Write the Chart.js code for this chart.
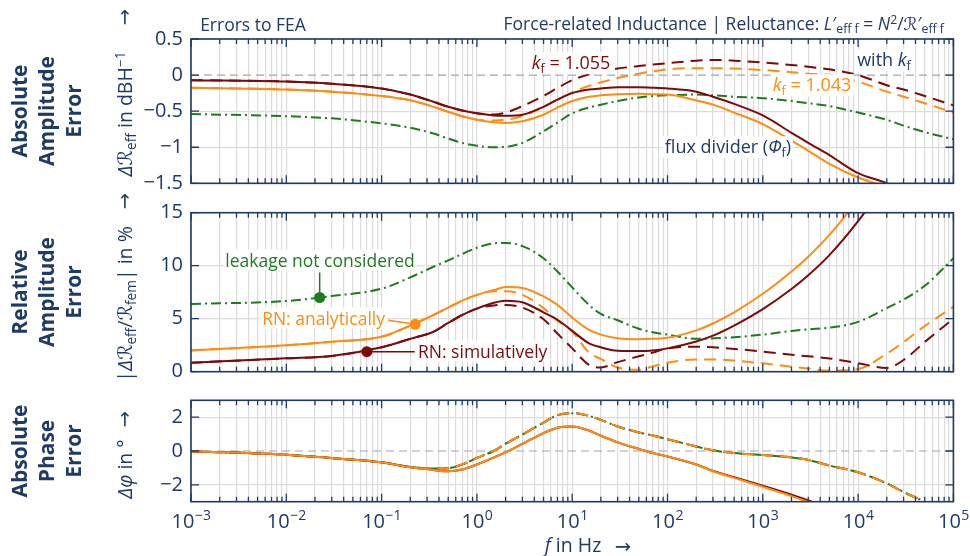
<!DOCTYPE html>
<html>
<head>
<meta charset="utf-8">
<script src="https://cdn.jsdelivr.net/npm/chart.js@4.4.1/dist/chart.umd.min.js"></script>
<style>
  body { margin: 0; width: 970px; height: 556px; position: relative; overflow: hidden; background: #fff;
         font-family: 'Open Sans', 'DejaVu Sans', sans-serif; color: #1e3a66; }
  canvas { position: absolute; left: 0; top: 0; }
  .t { position: absolute; white-space: nowrap; transform: translate(-50%, -50%); font-size: 17.5px; line-height: 1.2; }
  .rot { transform: translate(-50%, -50%) rotate(-90deg); }
  .side { font-weight: 700; font-size: 21px; line-height: 27px; text-align: center; }
  .ax { font-size: 19.5px; }
  .bg { background: #fff; padding: 0 2px; }
  sub { font-size: 0.7em; vertical-align: -0.28em; line-height: 0; }
  sup { font-size: 0.7em; vertical-align: 0.5em; line-height: 0; }
  .cal { font-family: 'DejaVu Sans', 'DejaVu Serif', serif; font-style: italic; }
</style>
</head>
<body>
<canvas id="amp" width="970" height="556"></canvas>
<canvas id="rel" width="970" height="556"></canvas>
<canvas id="phase" width="970" height="556"></canvas>

<div class="t" style="left:253px;top:24px">Errors to FEA</div>
<div class="t" style="left:944px;top:24px;transform:translate(-100%,-50%)">Force-related Inductance | Reluctance: <i>L</i>′<sub>eff f</sub> = <i>N</i><sup>2</sup>/<span class="cal">ℛ</span>′<sub>eff f</sub></div>

<div class="t rot side" style="left:46px;top:111px">Absolute<br>Amplitude<br>Error</div>
<div class="t rot side" style="left:46px;top:292px">Relative<br>Amplitude<br>Error</div>
<div class="t rot side" style="left:46px;top:451px">Absolute<br>Phase<br>Error</div>

<div class="t rot ax" style="left:125px;top:114px"><i>Δ</i><span class="cal">ℛ</span><sub>eff</sub> in dBH<sup>−1</sup></div>
<div class="t rot ax" style="left:124px;top:17px">→</div>
<div class="t rot ax" style="left:125px;top:304px">|<i>Δ</i><span class="cal">ℛ</span><sub>eff</sub>/<span class="cal">ℛ</span><sub>fem</sub>| in %</div>
<div class="t rot ax" style="left:124px;top:201px">→</div>
<div class="t rot ax" style="left:125px;top:469px"><i>Δφ</i> in °</div>
<div class="t rot ax" style="left:124px;top:419px">→</div>
<div class="t ax" style="left:573px;top:545px"><i>f</i> in Hz</div>
<div class="t ax" style="left:623px;top:546px">→</div>

<div class="t bg" style="left:571px;top:63px;color:#7d0a0a;font-size:18px"><i>k</i><sub>f</sub> = 1.055</div>
<div class="t bg" style="left:884px;top:60px;font-size:18px">with <i>k</i><sub>f</sub></div>
<div class="t bg" style="left:812px;top:85px;color:#ff8c10;font-size:18px"><i>k</i><sub>f</sub> = 1.043</div>
<div class="t bg" style="left:728px;top:147px;font-size:18px">flux divider (<i>Φ</i><sub>f</sub>)</div>

<div class="t bg" style="left:320px;top:260px;color:#1e7b1e">leakage not considered</div>
<div class="t bg" style="left:387px;top:318px;color:#ff8c10;transform:translate(-100%,-50%)">RN: analytically</div>
<div class="t bg" style="left:416px;top:351px;color:#7d0a0a;transform:translate(0,-50%)">RN: simulatively</div>

<script>
const freq = [1e-3, 1e-2, 0.03, 0.1, 0.2, 0.35, 0.5, 0.7, 1, 1.5, 2, 3, 5, 7, 10, 15, 20, 30, 50, 70, 100, 200, 300, 500, 1e3, 2e3, 3e3, 5e3, 1e4, 2e4, 3e4, 5e4, 1e5]

// absolute amplitude error in dBH^-1
const ampSim   = [-0.07, -0.09, -0.12, -0.185, -0.27, -0.37, -0.44, -0.49, -0.53, -0.56, -0.565, -0.55, -0.44, -0.34, -0.25, -0.2, -0.185, -0.17, -0.17, -0.175, -0.185, -0.23, -0.3, -0.4, -0.56, -0.8, -0.94, -1.11, -1.36, -1.5, -1.62, -1.82, -2.1]
const ampAna   = [-0.175, -0.2, -0.23, -0.29, -0.35, -0.44, -0.51, -0.57, -0.62, -0.655, -0.665, -0.64, -0.55, -0.45, -0.36, -0.3, -0.28, -0.265, -0.26, -0.265, -0.27, -0.35, -0.41, -0.52, -0.68, -0.91, -1.05, -1.23, -1.42, -1.56, -1.7, -1.92, -2.25]
const ampLeak  = [-0.54, -0.57, -0.6, -0.67, -0.73, -0.81, -0.88, -0.94, -0.98, -1.0, -0.995, -0.94, -0.78, -0.66, -0.53, -0.45, -0.41, -0.36, -0.31, -0.29, -0.28, -0.27, -0.28, -0.3, -0.32, -0.36, -0.39, -0.43, -0.52, -0.62, -0.7, -0.79, -0.89]
const ampSimKf = [-0.07, -0.09, -0.12, -0.185, -0.27, -0.37, -0.44, -0.49, -0.53, -0.545, -0.52, -0.43, -0.29, -0.18, -0.07, 0.01, 0.05, 0.09, 0.125, 0.145, 0.165, 0.2, 0.21, 0.2, 0.175, 0.14, 0.115, 0.08, 0.0, -0.14, -0.2, -0.29, -0.42]
const ampAnaKf = [-0.175, -0.2, -0.23, -0.29, -0.35, -0.44, -0.51, -0.57, -0.62, -0.63, -0.62, -0.57, -0.44, -0.34, -0.24, -0.15, -0.1, -0.04, 0.02, 0.05, 0.08, 0.095, 0.095, 0.09, 0.07, 0.04, 0.02, 0.0, -0.09, -0.23, -0.3, -0.39, -0.52]

// relative amplitude error in %
const relSim   = [0.85, 1.26, 1.48, 2.3, 3.1, 3.77, 4.6, 5.35, 5.95, 6.5, 6.7, 6.55, 5.6, 4.9, 3.85, 2.68, 2.3, 1.98, 1.95, 2.0, 2.2, 2.85, 3.4, 4.35, 5.9, 7.8, 9.1, 11.0, 14.2, 18, 20.5, 24, 30]
const relAna   = [2.0, 2.49, 2.83, 3.3, 4.35, 5.35, 6.05, 6.7, 7.25, 7.7, 7.98, 7.9, 7.1, 6.3, 5.1, 3.95, 3.5, 3.15, 3.06, 3.1, 3.2, 3.9, 4.55, 5.6, 7.35, 9.45, 10.85, 12.9, 16.3, 20.5, 23.5, 28, 35]
const relLeak  = [6.39, 6.67, 7.14, 7.83, 8.9, 9.9, 10.5, 11.1, 11.7, 12.1, 12.15, 11.85, 10.7, 9.45, 7.95, 6.3, 5.45, 4.85, 4.05, 3.72, 3.5, 3.1, 3.15, 3.25, 3.5, 3.85, 4.0, 4.15, 4.7, 6.0, 6.8, 8.1, 10.7]
const relSimKf = [0.85, 1.26, 1.48, 2.3, 3.1, 3.77, 4.6, 5.35, 5.95, 6.25, 6.3, 6.05, 4.95, 3.6, 2.2, 0.65, 0.4, 0.9, 1.45, 1.8, 2.2, 2.35, 2.3, 2.15, 1.9, 1.6, 1.45, 1.25, 0.8, 0.35, 1.1, 2.8, 5.0]
const relAnaKf = [2.0, 2.49, 2.83, 3.3, 4.35, 5.35, 6.05, 6.7, 7.25, 7.6, 7.6, 7.25, 6.0, 4.8, 3.8, 1.8, 1.2, 0.4, 0.18, 0.5, 0.85, 1.15, 1.15, 1.05, 0.79, 0.47, 0.3, 0.1, 0.25, 1.7, 2.8, 4.3, 6.13]

// absolute phase error in degree
const phaseSim = [-0.02, -0.22, -0.42, -0.67, -0.96, -1.12, -1.2, -1.1, -0.8, -0.39, -0.08, 0.42, 1.06, 1.38, 1.45, 1.21, 0.9, 0.51, 0.12, -0.12, -0.32, -0.8, -1.18, -1.55, -2.05, -2.58, -2.92, -3.4, -4.0, -4.6, -5.0, -5.5, -6.2]
const phaseAna = [-0.02, -0.22, -0.42, -0.67, -0.96, -1.12, -1.2, -1.1, -0.8, -0.39, -0.08, 0.42, 1.06, 1.38, 1.45, 1.21, 0.9, 0.51, 0.12, -0.12, -0.32, -0.8, -1.2, -1.59, -2.12, -2.67, -3.02, -3.5, -4.1, -4.8, -5.2, -5.6, -6.3]
const phaseLeak = [-0.02, -0.22, -0.42, -0.67, -0.94, -1.04, -1.02, -0.8, -0.41, 0.0, 0.43, 0.97, 1.68, 2.12, 2.24, 2.08, 1.84, 1.45, 1.1, 0.92, 0.7, 0.27, 0.04, -0.12, -0.24, -0.38, -0.53, -0.86, -1.26, -1.92, -2.43, -3.02, -4.2]
const phaseKf  = [-0.02, -0.22, -0.42, -0.67, -0.94, -1.04, -1.02, -0.8, -0.41, 0.0, 0.43, 0.97, 1.68, 2.12, 2.24, 2.08, 1.84, 1.45, 1.1, 0.92, 0.7, 0.27, 0.04, -0.12, -0.24, -0.38, -0.53, -0.86, -1.26, -1.92, -2.43, -3.02, -4.2]

const xDecades   = [-3, -2, -1, 0, 1, 2, 3, 4, 5]
const ampTicks   = [-1.5, -1, -0.5, 0, 0.5]
const relTicks   = [0, 5, 10, 15]
const phaseTicks = [-2, 0, 2]

// annotated points on the relative error curves
const markerFreq = [0.0224, 0.225, 0.07]
const markerRel  = [7.0, 4.47, 1.89]

const navy = '#1e3a66'
const red = '#7d0a0a'
const orange = '#ff8c10'
const green = '#1e7b1e'
const gridGray = '#dcdcdc'

const xGrid = []
for (let d = -3; d < 5; d++) {
  for (let m = 1; m < 10; m++) xGrid.push(Number((m * Math.pow(10, d)).toPrecision(3)))
}
xGrid.push(1e5)

const pts = (ys) => freq.map((f, i) => ({ x: f, y: ys[i] }))
const solid = (ys, color, order) => ({ data: pts(ys), borderColor: color, order: order })
const dashed = (ys, color, order) => ({ data: pts(ys), borderColor: color, borderDash: [12, 7], order: order })
const dashDot = (ys, color, order) => ({ data: pts(ys), borderColor: color, borderDash: [10, 4, 2, 4], order: order })

const frame = {
  id: 'frame',
  beforeDatasetsDraw(chart) {
    const { ctx, chartArea: a, scales: { y } } = chart
    if (y.min < 0 && y.max > 0) {
      const py = y.getPixelForValue(0)
      ctx.save()
      ctx.setLineDash([8, 5])
      ctx.strokeStyle = '#9aa6b8'
      ctx.lineWidth = 1.2
      ctx.beginPath()
      ctx.moveTo(a.left, py)
      ctx.lineTo(a.right, py)
      ctx.stroke()
      ctx.restore()
    }
  },
  afterDatasetsDraw(chart) {
    const { ctx, chartArea: a, scales: { x, y } } = chart
    ctx.save()
    ctx.strokeStyle = navy
    ctx.lineWidth = 1.3
    ctx.beginPath()
    xGrid.forEach(v => {
      const px = x.getPixelForValue(v)
      const len = Number.isInteger(Math.log10(v)) ? 8 : 5
      ctx.moveTo(px, a.top); ctx.lineTo(px, a.top + len)
      ctx.moveTo(px, a.bottom); ctx.lineTo(px, a.bottom - len)
    })
    y.ticks.forEach(t => {
      const py = y.getPixelForValue(t.value)
      ctx.moveTo(a.left, py); ctx.lineTo(a.left + 8, py)
      ctx.moveTo(a.right, py); ctx.lineTo(a.right - 8, py)
    })
    ctx.stroke()
    ctx.lineWidth = 1.6
    ctx.strokeRect(a.left, a.top, a.right - a.left, a.bottom - a.top)
    ctx.restore()
  }
}

const leaders = {
  id: 'leaders',
  afterDatasetsDraw(chart) {
    const { ctx, scales: { x, y } } = chart
    const p = markerFreq.map((f, i) => [x.getPixelForValue(f), y.getPixelForValue(markerRel[i])])
    ctx.save()
    ctx.lineWidth = 1.5
    ctx.strokeStyle = green
    ctx.beginPath(); ctx.moveTo(p[0][0], p[0][1]); ctx.lineTo(p[0][0], p[0][1] - 25); ctx.stroke()
    ctx.strokeStyle = orange
    ctx.beginPath(); ctx.moveTo(p[1][0], p[1][1]); ctx.lineTo(p[1][0] - 27, p[1][1] - 4); ctx.stroke()
    ctx.strokeStyle = red
    ctx.beginPath(); ctx.moveTo(p[2][0], p[2][1]); ctx.lineTo(p[2][0] + 48, p[2][1]); ctx.stroke()
    ctx.restore()
  }
}

const decadeLabels = {
  id: 'decadeLabels',
  afterDraw(chart) {
    const { ctx, chartArea: a, scales: { x } } = chart
    ctx.save()
    ctx.fillStyle = navy
    ctx.textBaseline = 'alphabetic'
    xDecades.forEach(d => {
      const px = x.getPixelForValue(Math.pow(10, d))
      const exp = d < 0 ? '\u2212' + Math.abs(d) : String(d)
      ctx.font = '20px "Open Sans"'
      const wBase = ctx.measureText('10').width
      ctx.font = '14px "Open Sans"'
      const wExp = ctx.measureText(exp).width
      const left = px - (wBase + wExp) / 2
      ctx.font = '20px "Open Sans"'
      ctx.fillText('10', left, a.bottom + 26.5)
      ctx.font = '14px "Open Sans"'
      ctx.fillText(exp, left + wBase + 0.5, a.bottom + 18)
    })
    ctx.restore()
  }
}

// every panel gets a full size transparent canvas, the plot box is placed by padding
function panel(id, datasets, yMin, yMax, yTicks, top, bottom, extra) {
  return new Chart(document.getElementById(id), {
    type: 'line',
    data: { datasets: datasets },
    options: {
      responsive: false,
      animation: false,
      devicePixelRatio: 1,
      layout: { autoPadding: false, padding: { top: top, right: 16.6, left: 0, bottom: 0 } },
      plugins: { legend: { display: false }, tooltip: { enabled: false } },
      elements: {
        point: { radius: 0 },
        line: { borderWidth: 2, cubicInterpolationMode: 'monotone', fill: false }
      },
      scales: {
        x: {
          type: 'logarithmic',
          min: 1e-3,
          max: 1e5,
          afterBuildTicks: s => { s.ticks = xGrid.map(v => ({ value: v })) },
          afterFit: s => { s.height = 556 - bottom },
          ticks: { display: false },
          grid: { color: gridGray, lineWidth: 1.2, drawTicks: false },
          border: { display: false }
        },
        y: {
          type: 'linear',
          min: yMin,
          max: yMax,
          afterBuildTicks: s => { s.ticks = yTicks.map(v => ({ value: v })) },
          afterFit: s => { s.width = 191 },
          ticks: {
            color: navy,
            padding: 8,
            font: { family: 'Open Sans', size: 20 },
            callback: v => String(v).replace('-', '\u2212')
          },
          grid: {
            color: c => (c.tick && c.tick.value === 0) ? 'rgba(0,0,0,0)' : gridGray,
            lineWidth: 1.2,
            drawTicks: false
          },
          border: { display: false }
        }
      }
    },
    plugins: [frame].concat(extra)
  })
}

panel('amp', [
  solid(ampAna, orange, 1),
  solid(ampSim, red, 2),
  dashed(ampAnaKf, orange, 3),
  dashed(ampSimKf, red, 4),
  dashDot(ampLeak, green, 5)
], -1.5, 0.5, ampTicks, 39, 183.3, [])

const markers = markerFreq.map((f, i) => ({
  data: [{ x: f, y: markerRel[i] }],
  showLine: false,
  pointRadius: 5.5,
  pointBorderWidth: 0,
  pointBackgroundColor: [green, orange, red][i],
  borderColor: [green, orange, red][i],
  order: 0
}))

panel('rel', markers.concat([
  solid(relAna, orange, 1),
  solid(relSim, red, 2),
  dashed(relAnaKf, orange, 3),
  dashed(relSimKf, red, 4),
  dashDot(relLeak, green, 5)
]), 0, 15, relTicks, 212.7, 371.7, [leaders])

panel('phase', [
  solid(phaseAna, orange, 1),
  solid(phaseSim, red, 2),
  dashed(phaseKf, orange, 3),
  dashDot(phaseLeak, green, 4),
  dashed(phaseKf, red, 5)
], -3, 3, phaseTicks, 400.3, 501.7, [decadeLabels])
</script>
</body>
</html>
